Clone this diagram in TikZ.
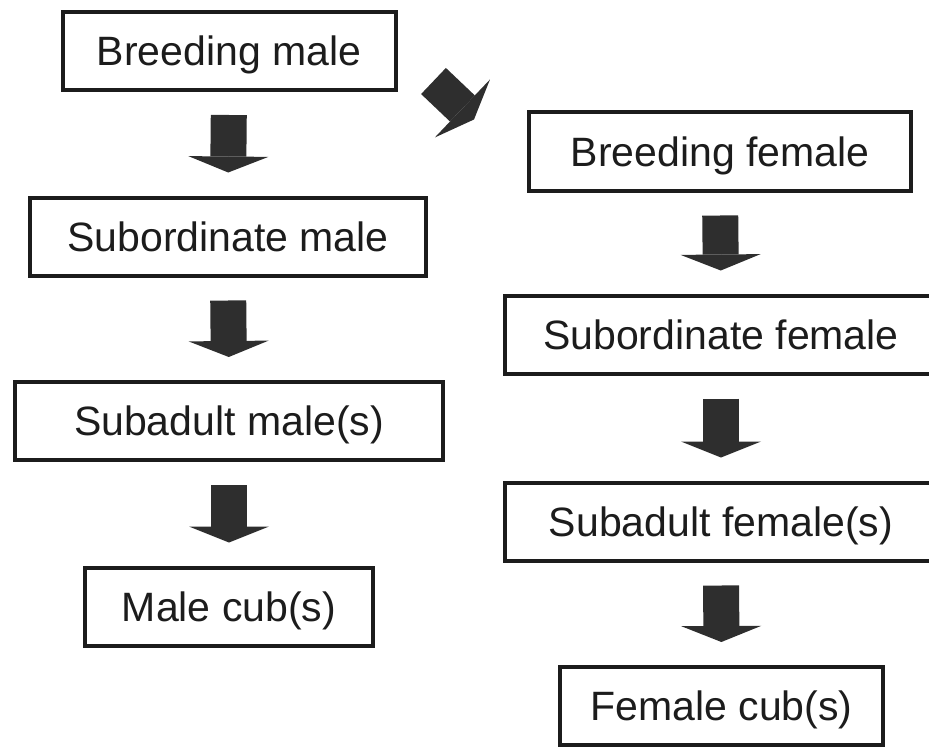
\documentclass[tikz,border=0pt]{standalone}
\usepackage{fontspec}
\setmainfont{Liberation Sans}
\usepackage{xcolor}
\usetikzlibrary{arrows.meta, positioning, calc}
\definecolor{arrowgray}{HTML}{2E2E2E}
\definecolor{inkgray}{HTML}{1C1C1C}

\begin{document}
\begin{tikzpicture}[x=1pt, y=-1pt,
    box/.style={draw=inkgray, line width=4pt, fill=white, text=inkgray,
        font=\fontsize{41}{48}\selectfont, minimum height=78pt,
        text height=29.5pt, text depth=0pt, inner sep=0pt},
    blk/.style={draw=arrowgray, line width=36pt, shorten <=23pt, shorten >=23pt,
        -{Triangle[width=80pt, length=16pt, line width=0pt]}}
]
    \clip (0,0) rectangle (929,749);
    % male line
    \node[box, minimum width=333pt] (bm)  at (229,51)    {Breeding male};
    \node[box, minimum width=396pt] (sm)  at (228,236.5) {Subordinate male};
    \node[box, minimum width=428pt] (sam) at (229,421)   {Subadult male(s)};
    \node[box, minimum width=288pt] (mc)  at (229,606.5) {Male cub(s)};
    % female line
    \node[box, minimum width=382pt] (bf)  at (720,151.5) {Breeding female};
    \node[box, minimum width=432pt] (sf)  at (721,334.5) {Subordinate female};
    \node[box, minimum width=432pt] (saf) at (721,521.5) {Subadult female(s)};
    \node[box, minimum width=323pt] (fc)  at (721.5,706) {Female cub(s)};
    % block arrows down each line
    \foreach \a/\b in {bm/sm, sm/sam, sam/mc, bf/sf, sf/saf, saf/fc} {
        \draw[blk] (\a.south) -- (\b.north);
    }
    % male to female
    \draw[blk, shorten <=0pt, shorten >=0pt]
        ([xshift=36pt, yshift=-30pt]bm.east) -- ([xshift=-53pt, yshift=-9pt]bf.north west);
\end{tikzpicture}
\end{document}
